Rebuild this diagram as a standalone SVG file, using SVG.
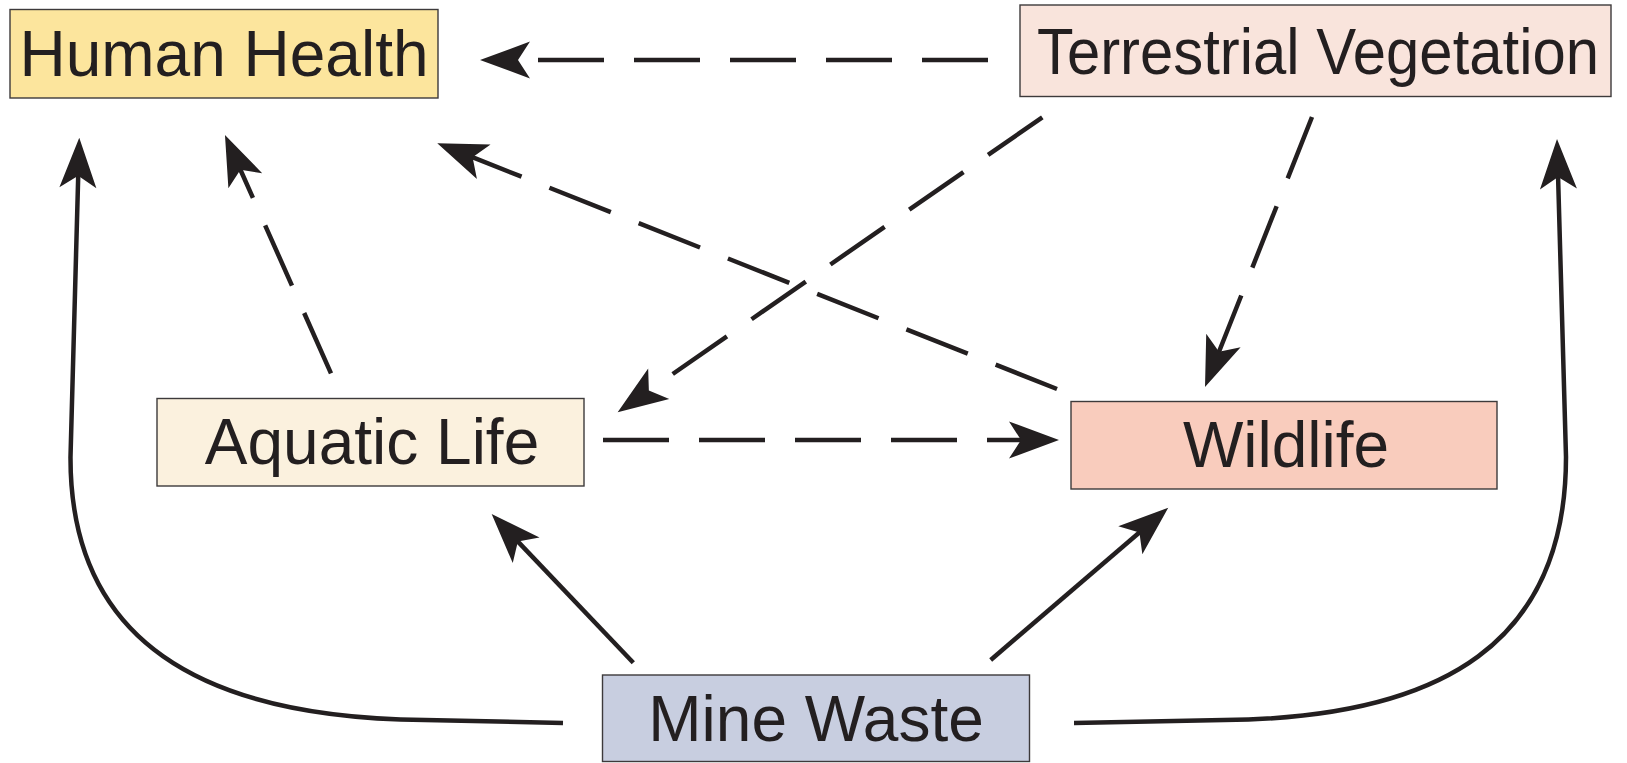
<svg xmlns="http://www.w3.org/2000/svg" width="1627" height="763" viewBox="0 0 1627 763">
  <style>
    .box { stroke: #3d3a3b; stroke-width: 1.4; }
    .label { font-family: "Liberation Sans", Arial, sans-serif; font-size: 64px; fill: #231f20; text-anchor: middle; }
    .link { fill: none; stroke: #231f20; stroke-width: 4.5; stroke-linecap: butt; stroke-linejoin: round; }
    .dashed { stroke-dasharray: 66 30; }
  </style>
  <defs>
    <!-- notched arrowhead; path end sits just inside the notch -->
    <marker id="arrow" markerUnits="userSpaceOnUse" orient="auto" refX="0" refY="0" markerWidth="120" markerHeight="120" viewBox="-60 -60 120 120" overflow="visible">
      <path d="M35,0 L-15,-18.5 L-3,0 L-15,18.5 Z" fill="#231f20"/>
    </marker>
  </defs>

  <g id="connectors">
    <!-- dashed influences -->
    <path class="link dashed" d="M988,60 L515,60" marker-end="url(#arrow)"/>
    <path class="link dashed" d="M1042.3,117.3 L646.4,392.3" marker-end="url(#arrow)"/>
    <path class="link dashed" d="M1312,117 L1217.9,354.5" marker-end="url(#arrow)"/>
    <path class="link dashed" d="M1057,389 L469.8,156.2" marker-end="url(#arrow)"/>
    <path class="link dashed" d="M331,373.3 L239.2,167" marker-end="url(#arrow)"/>
    <path class="link dashed" d="M603,440 L1024,440" marker-end="url(#arrow)"/>
    <!-- solid pathways out of the mine waste -->
    <path class="link" d="M633.3,662.7 L515.8,539.4" marker-end="url(#arrow)"/>
    <path class="link" d="M990.7,660 L1141.7,530.5" marker-end="url(#arrow)"/>
    <path class="link" d="M563,723 L425,720 C200,718 70,640 70.5,457 L78.3,172.7" marker-end="url(#arrow)"/>
    <path class="link" d="M1074,723 L1224,720 C1446,718 1566,640 1566,457 L1558,174" marker-end="url(#arrow)"/>
  </g>

  <g id="human-health">
    <rect class="box" x="10" y="9.5" width="428" height="88.5" fill="#fce59d"/>
    <text class="label" x="224" y="76">Human Health</text>
  </g>

  <g id="terrestrial-vegetation">
    <rect class="box" x="1020" y="5" width="591" height="91.5" fill="#f9e4dc"/>
    <!-- condensed label so it fits the box -->
    <text class="label" transform="translate(1318,74) scale(0.935,1)" x="0" y="0">Terrestrial Vegetation</text>
  </g>

  <g id="aquatic-life">
    <rect class="box" x="157" y="398.5" width="427" height="87.5" fill="#fbf1de"/>
    <text class="label" x="372" y="464">Aquatic Life</text>
  </g>

  <g id="wildlife">
    <rect class="box" x="1071" y="401.5" width="426" height="87.5" fill="#f9ccbd"/>
    <text class="label" x="1286" y="467">Wildlife</text>
  </g>

  <g id="mine-waste">
    <rect class="box" x="602.5" y="675" width="427" height="86.5" fill="#c8cee0"/>
    <text class="label" x="816" y="741">Mine Waste</text>
  </g>
</svg>
